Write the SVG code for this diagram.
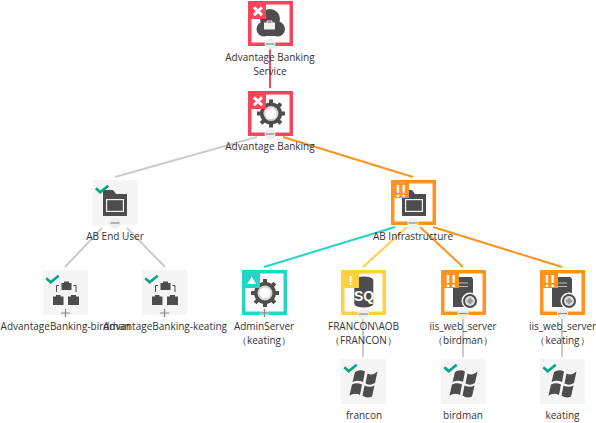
<svg xmlns="http://www.w3.org/2000/svg" width="596" height="423" viewBox="0 0 596 423">
<style>
text{font-family:"Open Sans","Noto Sans","Liberation Sans",sans-serif;font-size:10px;fill:#333;text-anchor:middle}
.bg{fill:#f5f5f5}
.fr{fill:#fff;stroke-width:3.5}
.ic{fill:#4d4d4d}
.c{fill:none;stroke-width:2}
.g{stroke:#cbcbcb}.o{stroke:#ff931e}.r{stroke:#f9455b}.t{stroke:#26d4c4}.y{stroke:#ffd03f}
.chk{fill:none;stroke:#01a982;stroke-width:2.6}
.pm{stroke:#8a8a8a;stroke-width:1.2;fill:none}
.tg{fill:#eee}
.w{fill:#fff;font-weight:700;font-family:"Liberation Sans",sans-serif}
</style>
<defs>
<path id="check" class="chk" d="M3.300 8.300L7.700 12.300L15.700 5.700"/>
<g id="gear"><circle class="ic" cx="0" cy="0" r="11"/><g class="ic"><rect x="-2" y="-14" width="4" height="28"/><rect x="-2" y="-14" width="4" height="28" transform="rotate(45)"/><rect x="-2" y="-14" width="4" height="28" transform="rotate(90)"/><rect x="-2" y="-14" width="4" height="28" transform="rotate(135)"/></g><circle cx="0" cy="0" r="7.500" fill="#d4d4d4"/><circle cx="0" cy="0" r="5.500" fill="#fff"/></g>
<g id="folder"><path class="ic" d="M-12 -15h10l3 4h11v22h-24z"/><rect x="-9" y="-6" width="18" height="13" fill="#f2f2f2"/><rect x="-7.800" y="-4.800" width="15.600" height="10.600" class="ic"/></g>
<g id="org"><path d="M-9.500 -1v-6.500h2.500M10 -1v-6.500h-2.500" fill="none" stroke="#4d4d4d"/><path class="ic" d="M-4.500 -10h10v7h-10zM-2 -10v-1.500h5v1.500z"/><path class="ic" d="M-13 3.500h10.500v8.500h-10.500zM-10 3.500v-1.500h4.500v1.500zM2 3.500h11v8.500h-11zM5 3.500v-1.500h5v1.500z"/></g>
<g id="server"><path class="ic" d="M-11 -17h18.500l1.500 2v28h-20z"/><path d="M-6 -11h10M-6 -7.500h10" stroke="#bbb"/><circle cx="6" cy="7" r="8.500" fill="#fff"/><circle cx="6" cy="7" r="7" fill="#4d4d4d"/><circle cx="6" cy="7" r="5" fill="#ddd"/><path d="M6 3.500l3.500 3.500l-3.500 3.500l-3.500-3.500z" fill="#999"/></g>
<g id="win" class="ic"><path d="M-9 -11q5 -3 10 -0.500l-2 10.500q-5 -2.500 -10.500 0zM3.500 -9.500q5 2.500 10 -2l-2.500 11.500q-5 3 -9.500 0.500zM-12 1.500q5 -2.500 10 0l-2 10.500q-5 -2.500 -10.500 0.500zM0.500 2.500q5 2.500 10 0l-2.500 11q-5 2.500 -9.500 -1z"/></g>
<g id="xb"><rect width="18" height="18" fill="#f9455b"/><path d="M6 6.300L14 14.300M14 6.300L6 14.300" stroke="#fff" stroke-width="3"/></g>
<g id="oo"><rect width="18" height="18" fill="#ff931e"/><text class="w" x="7" y="16.500" style="font-size:16.500px;fill:#fff">!</text><text class="w" x="12.700" y="16.500" style="font-size:16.500px;fill:#fff">!</text></g>
<g id="minus"><circle r="5.500" class="tg"/><path class="pm" d="M-4.500 0H4.500"/></g>
<g id="plus"><circle r="5" class="tg" opacity=".6"/><path class="pm" d="M-4.500 0H4.500M0 -4V4"/></g>
</defs>
<g id="connectors">
<path class="c r" d="M270 49V88"/>
<path class="c g" d="M257 137L115 177M102 228L65 267M127 228L165 267"/>
<path class="c o" d="M283 137L413 177"/>
<path class="c t" d="M395 227L264 267"/>
<path class="c y" d="M407 227L363 267"/>
<path class="c o" d="M420 227L463 267M433 227L562 267"/>
<path class="c g" d="M363 318V357M463 318V357M562 318V357"/>
</g>
<g id="n-service"><rect class="fr" x="249.750" y="2.750" width="41.500" height="41.500" stroke="#f9455b"/>
<circle class="ic" cx="270" cy="19" r="10"/><circle class="ic" cx="264" cy="29" r="7.500"/><circle class="ic" cx="277.500" cy="29" r="7.500"/><rect class="ic" x="264" y="26" width="14" height="10"/><path fill="#f2f2f2" d="M264 22.500h11v7h-11z"/><path d="M267 22.500v-1.500h5v1.500" fill="none" stroke="#f2f2f2"/>
<use href="#xb" x="248" y="1"/><use href="#minus" x="270" y="44"/>
<text x="270" y="61">Advantage Banking</text><text x="270" y="75">Service</text></g>
<g id="n-ab"><rect class="fr" x="249.750" y="92.750" width="41.500" height="41.500" stroke="#f9455b"/><use href="#gear" x="271" y="113.500"/><use href="#xb" x="248" y="91"/><use href="#minus" x="270" y="134"/><text x="270" y="150">Advantage Banking</text></g>
<g id="n-enduser"><rect class="bg" x="92.500" y="180" width="45" height="45"/><use href="#folder" x="115" y="205"/><use href="#check" x="92.500" y="180"/><use href="#minus" x="115" y="223"/><text x="115" y="240">AB End User</text></g>
<g id="n-infra"><rect class="fr" x="392.750" y="181.750" width="41.500" height="41.500" stroke="#ff931e"/><use href="#folder" x="414" y="205"/><use href="#oo" x="391" y="180"/><use href="#minus" x="413" y="223"/><text x="413" y="240">AB Infrastructure</text></g>
<g id="n-birdman-app"><rect class="bg" x="43" y="270" width="45" height="45"/><use href="#org" x="66" y="293"/><use href="#check" x="43" y="270"/><use href="#plus" x="65.500" y="313"/><text x="65.500" y="330">AdvantageBanking-birdman</text></g>
<g id="n-keating-app"><rect class="bg" x="142" y="270" width="45" height="45"/><use href="#org" x="165" y="293"/><use href="#check" x="142" y="270"/><use href="#plus" x="164.500" y="313"/><text x="165" y="330">AdvantageBanking-keating</text></g>
<g id="n-admin"><rect class="fr" x="243.750" y="271.750" width="41.500" height="41.500" stroke="#26d4c4"/><use href="#gear" x="265" y="293"/><rect x="242" y="270" width="18" height="18" fill="#26d4c4"/><path d="M251.700 276.500l4.500 7.500h-9z" fill="#fff"/><use href="#plus" x="264.500" y="313"/><text x="264" y="330">AdminServer</text><text x="264" y="344">（keating）</text></g>
<g id="n-francon-sql"><rect class="fr" x="342.750" y="271.750" width="41.500" height="41.500" stroke="#ffd03f"/><path class="ic" d="M354.300 280a9.500 3.500 0 0 1 19 0v24a9.500 3.500 0 0 1-19 0z"/><text class="w" x="364" y="301" style="font-size:14px;fill:#fff">SQ</text><rect x="341" y="270" width="18" height="18" fill="#ffd03f"/><text class="w" x="351" y="285" style="font-size:13px;fill:#fff">!</text><use href="#minus" x="363.500" y="314"/><text x="363.500" y="330">FRANCON\AOB</text><text x="363.500" y="344">（FRANCON）</text></g>
<g id="n-iis-birdman"><rect class="fr" x="442.750" y="271.750" width="41.500" height="41.500" stroke="#ff931e"/><use href="#server" x="464" y="294"/><use href="#oo" x="441" y="270"/><use href="#minus" x="463" y="313.500"/><text x="463" y="330">iis_web_server</text><text x="463" y="344">（birdman）</text></g>
<g id="n-iis-keating"><rect class="fr" x="541.750" y="271.750" width="41.500" height="41.500" stroke="#ff931e"/><use href="#server" x="563" y="294"/><use href="#oo" x="540" y="270"/><use href="#minus" x="562.500" y="313.500"/><text x="562.500" y="330">iis_web_server</text><text x="562.500" y="344">（keating）</text></g>
<g id="n-francon"><rect class="bg" x="341" y="359" width="45" height="45"/><use href="#win" x="364" y="383"/><use href="#check" x="341" y="359"/><text x="364" y="419">francon</text></g>
<g id="n-birdman"><rect class="bg" x="441" y="359" width="45" height="45"/><use href="#win" x="464" y="383"/><use href="#check" x="441" y="359"/><text x="463" y="419">birdman</text></g>
<g id="n-keating"><rect class="bg" x="540" y="359" width="45" height="45"/><use href="#win" x="563" y="383"/><use href="#check" x="540" y="359"/><text x="562.500" y="419">keating</text></g>
</svg>
